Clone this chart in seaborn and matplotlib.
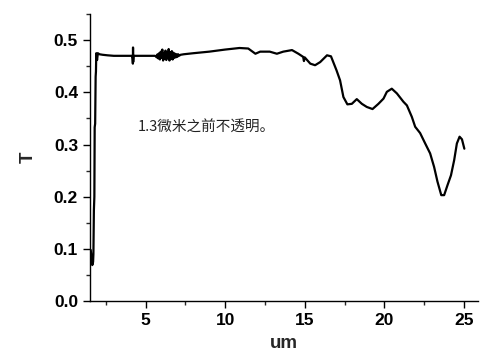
import matplotlib
matplotlib.use("Agg")
import matplotlib.pyplot as plt
import seaborn as sns
import pandas as pd
from matplotlib.ticker import MultipleLocator

# wavelength (um) and transmittance T
um = [1.55, 1.6, 1.65, 1.7, 1.72, 1.75, 1.78, 1.8, 1.83, 1.86, 1.88, 1.9, 1.95, 2.0, 2.1,
      2.3, 2.6, 3.0, 3.5, 4.0, 4.15, 4.18, 4.2, 4.21, 4.22, 4.24, 4.3, 4.8, 5.3, 5.6,
      5.7, 5.75, 5.8, 5.85, 5.9, 5.95, 6.0, 6.05, 6.1, 6.15, 6.2, 6.25, 6.3, 6.35, 6.4,
      6.45, 6.5, 6.55, 6.6, 6.65, 6.7, 6.75, 6.8, 6.85, 6.9, 6.95, 7.0, 7.05, 7.1, 7.2,
      7.4, 8.0, 9.0, 10.0, 10.9, 11.45, 11.9, 12.2, 12.8, 13.25, 13.65, 14.2, 14.6,
      14.9, 14.95, 15.0, 15.35, 15.65, 15.97, 16.4, 16.65, 17.0, 17.22, 17.43, 17.68,
      17.96, 18.27, 18.59, 18.9, 19.26, 19.63, 19.95, 20.16, 20.47, 20.79, 21.2, 21.42,
      21.73, 21.94, 22.25, 22.57, 22.88, 23.13, 23.34, 23.58, 23.76, 23.97, 24.19,
      24.39, 24.56, 24.73, 24.88, 25.03]
T = [0.098, 0.085, 0.069, 0.075, 0.090, 0.174, 0.20, 0.333, 0.34, 0.43, 0.44, 0.475, 0.462, 0.475, 0.473,
     0.472, 0.471, 0.470, 0.470, 0.470, 0.470, 0.465, 0.455, 0.486, 0.458, 0.470, 0.470, 0.470, 0.470, 0.470,
     0.467, 0.473, 0.465, 0.475, 0.463, 0.478, 0.466, 0.482, 0.461, 0.475, 0.464, 0.480, 0.462, 0.476, 0.466,
     0.483, 0.461, 0.477, 0.464, 0.479, 0.463, 0.476, 0.466, 0.474, 0.467, 0.473, 0.468, 0.473, 0.470, 0.472,
     0.473, 0.475, 0.478, 0.482, 0.485, 0.484, 0.474, 0.478, 0.478, 0.474, 0.478, 0.481, 0.474,
     0.468, 0.460, 0.467, 0.455, 0.452, 0.458, 0.471, 0.469, 0.442, 0.423, 0.391, 0.377,
     0.378, 0.387, 0.378, 0.372, 0.368, 0.378, 0.388, 0.401, 0.407, 0.398, 0.382, 0.375,
     0.353, 0.334, 0.322, 0.302, 0.283, 0.257, 0.229, 0.203, 0.203, 0.222, 0.241,
     0.270, 0.302, 0.315, 0.310, 0.292]

note = "1.3微米之前不透明。"
x_label = "um"
y_label = "T"
x_ticks = [5, 10, 15, 20, 25]
y_ticks = [0.0, 0.1, 0.2, 0.3, 0.4, 0.5]

sns.set_style("ticks")
plt.rcParams["font.family"] = ["Liberation Sans", "DejaVu Sans"]

fig = plt.figure(figsize=(4.94, 3.61), dpi=100)
ax = fig.add_axes([0.182, 0.166, 0.786, 0.795])

df = pd.DataFrame({"um": um, "T": T})
sns.lineplot(data=df, x="um", y="T", sort=False, estimator=None, color="black",
             linewidth=1.6, ax=ax)

ax.set_xlim(1.5, 25.9)
ax.set_ylim(0, 0.55)
ax.set_xticks(x_ticks)
ax.set_yticks(y_ticks)
ax.set_yticklabels([f"{v:.1f}" for v in y_ticks])
ax.xaxis.set_minor_locator(MultipleLocator(2.5))
ax.yaxis.set_minor_locator(MultipleLocator(0.05))
ax.tick_params(which="major", direction="out", length=5, width=1, labelsize=12.5, colors="black")
ax.tick_params(which="minor", direction="out", length=3, width=1)
for lab in ax.get_xticklabels() + ax.get_yticklabels():
    lab.set_fontweight("bold")

for s in ["top", "right"]:
    ax.spines[s].set_visible(False)
for s in ["left", "bottom"]:
    ax.spines[s].set_color("black")
    ax.spines[s].set_linewidth(1)

ax.set_xlabel(x_label, fontsize=13.5, fontweight="bold", labelpad=5)
ax.set_ylabel(y_label, fontsize=13.5, fontweight="bold", labelpad=12)

ax.text(4.5, 0.333, note, fontsize=10.5, va="center", ha="left", color="#222222",
        family=["Noto Sans CJK SC", "DejaVu Sans"])

fig.savefig("out.png", dpi=100)
